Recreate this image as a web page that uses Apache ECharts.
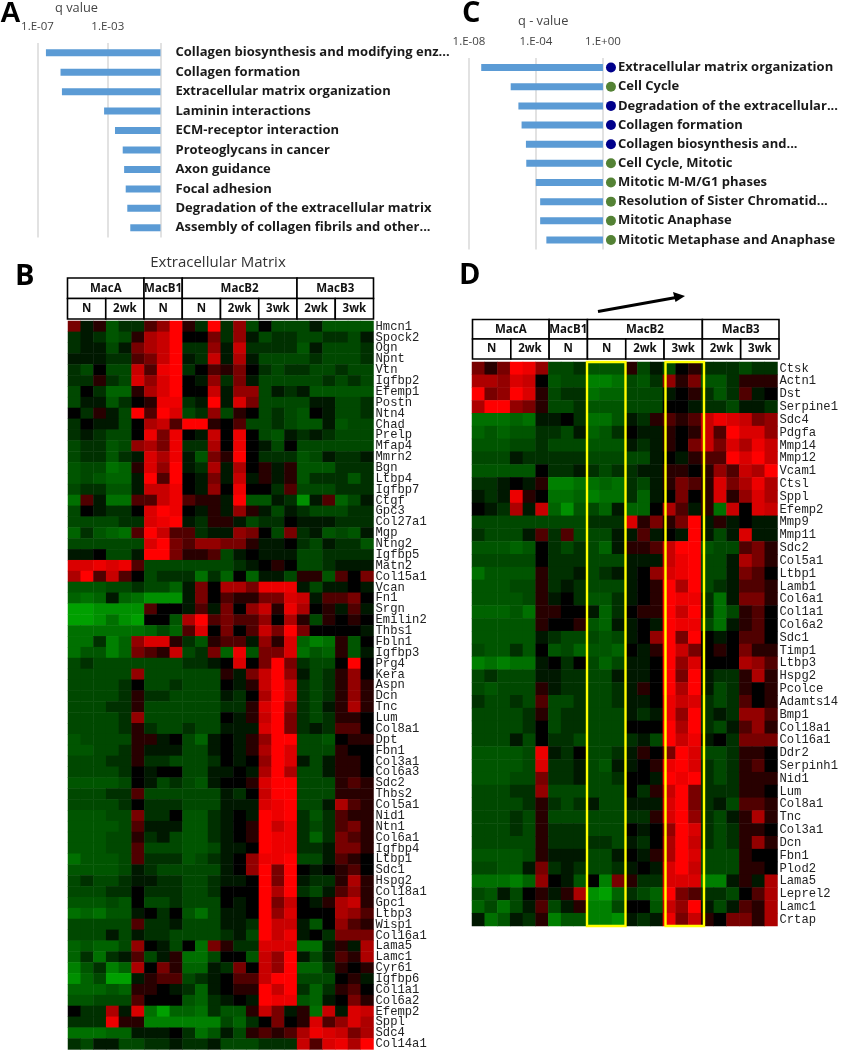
<!DOCTYPE html>
<html><head><meta charset="utf-8">
<style>html,body{margin:0;padding:0;background:#fff}#c{width:841px;height:1050px}</style>
<script src="https://cdn.jsdelivr.net/npm/echarts@6/dist/echarts.min.js"></script>
</head><body><div id="c"></div>
<script>
const pathwaysA = ['Collagen biosynthesis and modifying enz...','Collagen formation','Extracellular matrix organization','Laminin interactions','ECM-receptor interaction','Proteoglycans in cancer','Axon guidance','Focal adhesion','Degradation of the extracellular matrix','Assembly of collagen fibrils and other...'];
const log10qA = [-6.52,-5.69,-5.61,-3.21,-2.59,-2.15,-2.07,-1.98,-1.89,-1.72];
const pathwaysC = ['Extracellular matrix organization','Cell Cycle','Degradation of the extracellular...','Collagen formation','Collagen biosynthesis and...','Cell Cycle, Mitotic','Mitotic M-M/G1 phases','Resolution of Sister Chromatid...','Mitotic Anaphase','Mitotic Metaphase and Anaphase'];
const log10qC = [-7.27,-5.51,-5.05,-4.86,-4.60,-4.58,-4.01,-3.75,-3.75,-3.38];
const classC = ['e','c','e','e','e','c','c','c','c','c'];
const groupHeader = [['MacA',6],['MacB1',3],['MacB2',9],['MacB3',6]];
const timeHeader = [['N',3],['2wk',3],['N',3],['N',3],['2wk',3],['3wk',3],['2wk',3],['3wk',3]];
const genesB = ['Hmcn1','Spock2','Ogn','Npnt','Vtn','Igfbp2','Efemp1','Postn','Ntn4','Chad','Prelp','Mfap4','Mmrn2','Bgn','Ltbp4','Igfbp7','Ctgf','Gpc3','Col27a1','Mgp','Ntng2','Igfbp5','Matn2','Col15a1','Vcan','Fn1','Srgn','Emilin2','Thbs1','Fbln1','Igfbp3','Prg4','Kera','Aspn','Dcn','Tnc','Lum','Col8a1','Dpt','Fbn1','Col3a1','Col6a3','Sdc2','Thbs2','Col5a1','Nid1','Ntn1','Col6a1','Igfbp4','Ltbp1','Sdc1','Hspg2','Col18a1','Gpc1','Ltbp3','Wisp1','Col16a1','Lama5','Lamc1','Cyr61','Igfbp6','Col1a1','Col6a2','Efemp2','Sppl','Sdc4','Col14a1'];
const heatB = [
[3,-1,1,-4,-2,-2,2,4,9,1,-2,9,-2,4,-3,0,-3,-3,-3,-1,-4,-4,-4,-4],
[-2,-1,-2,-4,-3,1,5,6,9,0,0,3,-2,4,-1,-3,-2,-2,-3,-3,-2,-2,-3,-1],
[-2,-1,-1,-3,-1,3,5,6,9,-2,-2,4,-1,6,-2,-2,-2,-2,-4,-1,-3,-3,-3,-2],
[-1,-1,-1,-2,-2,2,3,6,9,-1,-2,6,-1,5,-1,-3,-3,-3,-3,-2,-3,-3,-3,-2],
[-2,-3,0,-3,-3,6,2,8,9,-2,0,2,1,3,0,-2,-3,-2,-2,-3,-3,-2,-3,-3],
[-2,-2,1,-2,-3,7,4,7,9,0,-1,4,-2,3,-1,-3,-3,-3,-3,-3,-2,-3,-2,-3],
[-3,0,-2,-5,-5,1,5,7,9,0,0,6,-1,4,4,-3,-1,-2,-1,-4,-4,-4,-4,-4],
[-3,-1,-1,-4,-2,0,1,8,8,-2,-1,9,-1,7,3,-3,-3,-3,-3,-1,-1,-3,-3,-2],
[0,-2,1,-1,-3,9,2,9,7,-3,-2,4,-3,1,0,-3,-2,-3,-4,0,-1,-3,-3,-2],
[-2,0,-1,-1,-3,0,5,6,2,9,9,1,0,2,-3,-3,-2,-3,-4,-4,-1,-4,-3,-3],
[-2,-1,-2,-3,-3,0,8,3,8,0,-1,6,0,8,0,-3,-4,-1,-2,-1,-2,-3,-3,-3],
[-3,-2,-2,-4,-3,4,5,3,8,-2,-2,5,0,8,0,-1,-3,0,-3,-3,-3,-3,-3,-3],
[-3,-2,-2,-4,-2,-1,7,5,8,-1,-4,3,1,9,0,-2,-2,-2,-4,-3,-1,-2,-2,-1],
[-4,-3,-3,-6,-5,1,7,4,9,-1,-2,5,-1,5,0,1,-1,1,-4,-4,-4,-2,-2,-2],
[-4,-3,-4,-5,-5,-1,9,2,9,0,-1,3,-1,6,-1,1,-1,1,-4,-2,-2,-2,-4,-2],
[-3,-2,-2,-4,-4,-1,6,6,8,0,-1,4,0,8,0,0,-2,2,-3,-3,-3,-2,-2,-2],
[-6,2,-1,-6,-6,2,2,6,8,2,1,1,-1,9,-4,-4,-1,-2,-8,-1,2,-5,-3,-1],
[-3,0,-1,-2,-2,0,7,9,8,0,-1,1,-1,4,1,-1,-3,-1,-2,-3,-3,-3,-2,-2],
[-3,-3,-3,-3,-2,-2,7,8,9,-1,-2,1,1,-1,-3,-2,-2,0,-1,-1,-1,-2,-2,-2],
[-5,-2,-4,-5,-6,2,9,6,2,2,-2,-1,-1,4,3,0,-3,3,-2,-1,-4,-3,-4,-1],
[-3,-3,-3,-3,-3,-3,7,9,3,2,4,4,3,3,1,-1,-1,0,-2,-3,-1,-2,-2,-4],
[-1,-1,0,-3,-3,-1,9,9,3,1,1,2,-3,-1,0,-1,-1,-1,-3,-3,-2,-2,-2,-2],
[7,7,8,7,8,2,-3,-3,-3,-3,-3,-3,-3,-2,-1,0,1,0,-3,-3,-2,-1,-1,-1],
[5,9,2,6,2,0,-3,-2,-2,-2,-6,-2,-5,0,-5,-1,-1,-3,1,1,-4,2,0,3],
[-4,-4,-4,-3,-3,-2,-3,-3,-5,-1,3,0,5,5,3,8,8,8,-1,-3,-1,-1,0,-1],
[-5,-6,-5,-1,-5,-6,-8,-8,-8,-1,3,0,2,1,1,3,3,7,6,-1,2,2,3,0],
[-9,-9,-8,-8,-8,-8,2,0,0,-1,2,-1,3,0,4,6,1,8,5,0,1,-1,2,-1],
[-9,-9,-8,-6,-8,-9,0,0,-4,5,9,2,3,2,2,4,0,5,1,-3,1,0,1,0],
[-6,-6,-6,-6,-6,-6,-5,-3,-5,2,7,0,3,0,2,6,3,9,3,0,0,0,0,-1],
[-6,-6,-2,-7,-5,4,7,7,1,-2,-4,1,2,2,-1,4,1,7,-5,-7,-6,1,-4,0],
[-6,-4,-4,-7,-5,3,2,1,6,-3,-2,3,-5,8,-4,3,3,7,-6,-4,-5,1,-4,-1],
[-3,-2,-3,-3,-3,-3,-3,-3,-3,-2,-2,-1,0,7,0,3,9,3,-2,-3,-3,0,9,0],
[-3,-3,-3,-3,-3,4,-3,-3,-3,-3,-3,-3,1,-1,3,6,9,4,-1,-3,-2,1,4,0],
[-3,-3,-3,-3,-2,0,-3,-3,-2,-3,-3,-3,0,-1,1,6,9,6,-2,-3,-2,1,4,1],
[-3,-3,-3,-3,-2,1,-2,-2,-3,-3,-3,-3,-1,-2,0,5,9,6,-2,-3,-2,1,4,1],
[-3,-3,-3,-2,-2,1,-3,-3,-3,-3,-3,-3,-2,-2,1,7,9,4,-2,-3,-1,1,5,1],
[-3,-3,-3,-3,-2,4,-3,-3,-3,-3,-3,-3,0,-1,1,6,9,3,-2,-3,-2,1,1,0],
[-3,-3,-3,-3,-2,1,-2,-3,-3,-2,-3,-3,-1,-1,-1,7,9,3,-2,-1,-2,2,2,0],
[-4,-3,-3,-3,-3,1,1,-1,0,-3,-5,-1,0,-1,1,4,9,9,-3,-3,-4,0,1,1],
[-4,-4,-3,-3,-2,1,-1,-1,-1,-3,-3,-1,0,-1,1,5,9,7,-3,-3,-3,1,0,0],
[-3,-3,-3,-2,-2,1,-2,-2,-3,-3,-3,-2,0,-1,0,4,9,7,-1,-3,-1,1,1,0],
[-3,-3,-3,-3,-2,0,-1,0,0,-3,-3,-1,-1,0,-1,5,9,5,-3,-3,-1,1,1,0],
[-4,-4,-4,-4,-3,0,-1,-3,-2,-3,-4,-1,0,0,1,7,9,9,-3,-3,-3,1,2,1],
[-3,-3,-3,-2,-2,2,-3,-3,-3,-3,-3,-3,-1,-2,0,6,9,9,-3,-3,-3,1,1,1],
[-3,-3,-3,-3,-2,0,-2,-2,-2,-3,-3,-3,-1,-1,-1,7,8,9,-3,-3,-1,5,2,1],
[-4,-4,-4,-3,-3,3,-2,-2,0,-4,-4,-2,-1,0,-1,9,8,9,-2,-4,-2,2,1,1],
[-4,-4,-4,-4,-3,2,-1,-1,-1,-4,-4,-2,-1,0,1,9,6,8,-2,-3,-2,2,3,1],
[-4,-4,-4,-3,-3,1,-2,-1,-3,-4,-4,-2,-1,0,1,9,8,8,-2,-5,-2,3,2,1],
[-4,-4,-4,-3,-3,2,-3,-3,-3,-4,-4,-3,-1,-1,0,9,8,8,-2,-2,-1,3,3,1],
[-6,-4,-4,-4,-3,2,-2,-2,-2,-4,-3,-2,-1,0,4,8,8,9,-3,-3,-1,2,1,0],
[-4,-4,-4,-4,-3,-1,-2,-3,-3,-3,-3,-3,-1,0,4,9,3,9,0,-1,0,1,2,0],
[-3,-2,-3,-3,-2,-1,-1,-2,-2,-3,-3,-2,-1,-1,0,9,3,9,-1,-2,-2,1,5,1],
[-3,-3,-3,-2,-2,0,-2,-2,-2,-3,-3,-2,0,0,0,9,5,9,-2,-3,-1,2,4,1],
[-4,-4,-4,-3,-4,0,-3,-3,-2,-3,-3,-3,0,-1,0,9,3,6,0,-1,1,5,6,1],
[-6,-5,-6,-4,-4,-1,0,-2,0,-4,-6,-3,-1,-1,0,9,4,7,0,0,0,5,4,2],
[-3,-3,-3,-3,-3,2,-2,-2,-1,-3,-3,-3,-1,-1,-2,9,6,6,-1,-4,0,4,2,1],
[-3,-3,-3,-1,-3,-1,-2,-2,-3,-3,-3,-3,-2,-1,-3,9,6,8,-1,0,-2,3,3,3],
[-5,-4,-5,-5,-3,4,0,-1,-3,0,-6,3,1,-2,-2,7,7,7,-6,-6,-1,1,-1,5],
[-5,-2,-6,-2,-1,2,-3,-1,1,-6,-6,-3,0,0,-4,6,4,9,-1,-3,-1,2,1,5],
[-7,-4,-2,-7,-5,5,0,3,1,-5,-5,-1,-2,3,0,6,4,9,-5,-5,-2,1,0,1],
[-8,-5,-3,-9,-9,-1,1,2,2,-3,-2,-1,0,2,2,6,9,9,-3,-3,-3,0,1,-1],
[-5,-5,-5,-4,-5,1,1,0,-1,-2,-5,-1,0,1,1,9,6,9,-2,-5,-2,1,2,0],
[-4,-4,-3,-3,-3,2,0,0,0,-4,-5,-2,-1,0,-1,9,8,8,-4,-5,-1,0,3,1],
[0,-2,-2,5,-1,7,-6,-9,-5,-5,-6,-2,-4,-4,1,6,3,-1,1,-6,6,-1,7,6],
[-2,-2,-2,8,1,1,-7,-7,-7,-7,-7,-7,-3,-5,-2,0,3,0,1,7,2,4,7,5],
[-6,-6,-6,-5,-5,-1,-1,-1,0,-2,-6,-4,-1,-3,1,2,1,2,5,8,7,6,3,5],
[-2,-3,-1,-1,-3,-3,-2,-2,-1,-2,-2,-1,-3,-3,-3,-2,-2,-2,6,2,7,8,5,9]
];
const genesD = ['Ctsk','Actn1','Dst','Serpine1','Sdc4','Pdgfa','Mmp14','Mmp12','Vcam1','Ctsl','Sppl','Efemp2','Mmp9','Mmp11','Sdc2','Col5a1','Ltbp1','Lamb1','Col6a1','Col1a1','Col6a2','Sdc1','Timp1','Ltbp3','Hspg2','Pcolce','Adamts14','Bmp1','Col18a1','Col16a1','Ddr2','Serpinh1','Nid1','Lum','Col8a1','Tnc','Col3a1','Dcn','Fbn1','Plod2','Lama5','Leprel2','Lamc1','Crtap'];
const heatD = [
[3,1,3,9,8,4,-3,-3,-2,-4,-4,-4,1,-3,-1,-3,0,1,-2,-2,-2,-3,-2,-2],
[5,5,4,7,6,0,-4,-3,-3,-7,-7,-6,-3,-4,-2,4,1,3,-4,-4,-2,1,1,1],
[9,3,4,9,7,1,-3,-2,-2,-6,-5,-5,-3,-3,-3,-1,0,1,-2,-4,-2,2,-1,0],
[5,9,9,4,3,1,-3,-3,-2,-4,-4,-4,-3,-3,-3,0,0,-1,-2,-2,-3,-1,-1,-2],
[-6,-6,-6,-5,-6,-1,-1,0,-2,-6,-6,-4,-1,-2,1,2,1,2,6,8,7,6,3,4],
[-5,-4,-5,-4,-4,-2,-2,-3,-1,-5,-4,-2,0,-1,-1,1,0,1,6,2,9,7,7,4],
[-4,-4,-4,-3,-3,-2,-3,-3,-3,-4,-4,-4,-1,-2,-1,1,0,3,6,3,7,5,8,6],
[-3,-3,-3,-1,-2,-2,-2,-2,-2,-3,-3,-3,-3,-3,-1,0,-1,1,2,2,9,7,9,6],
[-4,-4,-4,-4,-4,0,-2,-2,-1,-2,-3,-2,-2,-1,-1,1,1,0,1,4,2,6,5,9],
[-2,-2,-1,0,-1,1,-7,-7,-6,-6,-5,-6,-2,-3,-1,1,3,2,1,7,3,5,8,5],
[-1,-2,-1,8,1,0,-6,-6,-5,-7,-6,-6,-2,-5,-1,0,3,0,1,7,1,4,7,5],
[0,-1,-2,5,-1,6,-5,-8,-4,-3,-5,-1,-5,-5,0,5,2,-1,1,-6,6,0,7,6],
[-3,-3,-3,-3,-3,-3,-3,-3,-3,-2,-2,-2,7,1,3,1,3,9,-1,1,-1,0,-1,-1],
[-2,-3,-3,-3,-1,2,-2,2,-3,-3,-3,-1,-1,2,-1,0,-1,9,-1,-3,-1,7,-1,-1],
[-4,-4,-4,-5,-4,0,-2,-3,-2,-3,-5,-1,1,1,2,6,9,9,-4,-3,-3,2,3,1],
[-3,-3,-3,-3,-3,0,-2,-2,-2,-3,-3,-3,-1,-1,-1,6,8,9,-3,-3,-1,5,3,1],
[-6,-4,-4,-4,-4,1,-2,-2,-1,-3,-2,-1,-1,0,4,7,8,9,-3,-3,-1,3,2,0],
[-4,-4,-4,-3,-3,1,-2,-1,-2,-3,-3,-3,-1,0,1,9,5,9,-3,-2,-1,2,2,1],
[-4,-4,-4,-4,-3,1,-1,0,-2,-4,-4,-2,-1,0,1,9,8,8,-2,-6,-1,3,3,1],
[-5,-5,-5,-4,-6,1,1,0,0,-1,-5,-2,0,1,1,9,6,9,-2,-6,-3,1,2,0],
[-4,-4,-4,-4,-4,1,0,0,1,-4,-5,-1,-1,0,-1,9,8,8,-3,-6,-1,1,2,0],
[-4,-4,-4,-4,-4,-1,-2,-3,-3,-3,-4,-3,-1,0,4,9,3,9,0,-1,0,2,2,0],
[-3,-4,-4,-2,-4,0,-4,-3,-5,-4,-4,-5,0,-1,1,9,6,3,0,1,0,3,1,1],
[-7,-6,-7,-6,-6,-1,0,-2,0,-3,-5,-3,-1,-1,0,9,4,7,0,0,0,5,4,2],
[-3,-2,-3,-3,-3,-1,-1,-2,-2,-3,-3,-1,-1,-1,0,9,3,9,-1,-2,-2,1,5,1],
[-3,-4,-3,-3,-3,1,-1,-2,-2,-3,-3,-2,-1,1,0,9,5,9,-1,-3,-2,1,0,1],
[-2,-3,-3,-2,-3,2,-3,-3,-2,-3,-3,-2,-1,-1,0,8,6,7,-2,-3,-2,2,0,1],
[-3,-3,-3,-3,-2,1,-3,-2,-2,-3,-3,-3,-1,-2,-1,8,4,9,-2,-1,-2,4,4,2],
[-3,-3,-3,-3,-2,0,-3,-2,-2,-3,-3,-3,0,0,0,9,5,9,-2,-3,-1,2,4,1],
[-3,-3,-3,-1,-3,0,-2,-2,-3,-3,-3,-3,-2,-1,-3,9,6,8,-1,0,-2,3,3,3],
[-4,-4,-4,-4,-3,8,-1,-2,0,-3,-3,-2,-1,1,0,3,9,7,-3,-3,-2,1,1,0],
[-4,-4,-4,-4,-3,7,-2,-2,-1,-3,-4,-1,-1,0,1,8,9,7,-2,-3,-2,1,2,0],
[-4,-4,-4,-3,-3,3,-2,-2,-1,-3,-3,-2,0,0,-1,9,8,9,-2,-3,-2,1,1,1],
[-3,-3,-3,-2,-2,4,-3,-3,-3,-3,-3,-3,0,-2,1,6,9,3,-2,-2,-2,1,1,0],
[-3,-3,-3,-3,-2,1,-2,-3,-2,-1,-3,-3,-1,-1,-1,7,9,3,-2,-1,-3,2,2,1],
[-3,-3,-3,-2,-3,1,-3,-3,-3,-3,-3,-3,-2,-2,1,7,9,4,-2,-3,-1,1,5,1],
[-3,-3,-3,-2,-3,1,-2,-2,-2,-3,-3,-3,0,-1,0,4,9,7,-2,-3,-2,1,1,0],
[-3,-3,-3,-3,-3,1,-2,-2,-2,-2,-2,-3,-1,-2,0,5,9,6,-2,-3,-2,1,4,1],
[-4,-4,-4,-4,-3,1,-1,-1,-1,-3,-3,-1,0,-1,1,5,9,7,-3,-3,-3,1,0,0],
[-3,-3,-4,-4,-1,3,-2,-1,-2,-3,-3,-2,-1,0,-1,7,9,6,-3,-3,-3,1,1,0],
[-6,-6,-6,-7,-5,4,0,-1,-4,0,-7,3,1,-2,-2,7,7,7,-7,-7,-1,1,-1,5],
[-3,-4,-1,-3,0,1,-1,1,5,-8,-9,-5,-2,-3,-5,9,3,2,-2,-2,-3,0,2,5],
[-5,-3,-6,-3,-1,2,-3,-1,1,-7,-7,-3,0,0,-4,6,4,9,-1,-3,-1,2,1,5],
[-1,-6,-4,-1,-2,1,-7,-4,-4,-7,-7,-8,-1,-2,-1,8,3,6,1,0,3,3,1,5]
];
const columns = Array.from({length:24},(_,i)=>String(i));
const barBlue='#5b9bd5', gridGrey='#d9d9d9', dotColors={e:'#00008b',c:'#548235'};
const heatColors=['#00a000','#007000','#004800','#000000','#780000','#c80000','#ff0000'];
const uiFont='"Open Sans"', monoFont='"Liberation Mono"';

function cells(rows){const o=[];rows.forEach((r,y)=>r.forEach((v,x)=>o.push([x,y,v])));return o;}
function headerTable(x0,x1,y0,y1,y2){
  const w=(x1-x0)/24, g=[];
  const cell=(xa,xb,ya,yb,t)=>{
    g.push({type:'rect',shape:{x:xa,y:ya,width:xb-xa,height:yb-ya},style:{fill:'#fff',stroke:'#000',lineWidth:1.6},z:10});
    g.push({type:'text',style:{x:(xa+xb)/2,y:(ya+yb)/2,text:t,align:'center',verticalAlign:'middle',font:'bold 11.5px '+uiFont,fill:'#111'},z:11});
  };
  let c=0; groupHeader.forEach(([t,n])=>{cell(x0+c*w,x0+(c+n)*w,y0,y1,t);c+=n;});
  c=0; timeHeader.forEach(([t,n])=>{cell(x0+c*w,x0+(c+n)*w,y1,y2,t);c+=n;});
  return g;
}
function label(x,y,t,font,fill,align){return {type:'text',z:12,style:{x,y,text:t,font,fill:fill||'#111',align:align||'left',verticalAlign:'middle'}};}
const yellowBox=(x,y,w,h)=>({type:'rect',z:12,shape:{x,y,width:w,height:h},style:{fill:'none',stroke:'#ffff00',lineWidth:2.4}});
const graphics=[
  label(0,14,'A','bold 29px "Liberation Sans"','#000'),
  label(15,277,'B','bold 29px "Open Sans"','#000'),
  label(462,14,'C','bold 29px "Open Sans"','#000'),
  label(459,276,'D','bold 29px "Open Sans"','#000'),
  label(55,8,'q value','12.8px '+uiFont,'#444'),
  label(518,21,'q - value','12.8px '+uiFont,'#444'),
  label(218,263,'Extracellular Matrix','15px '+uiFont,'#333','center'),
  ...headerTable(67.5,373.5,278,298.5,319),
  ...headerTable(472.5,779,319.5,339,359),
  yellowBox(587,362,38.5,564),
  yellowBox(665.5,362,38.5,564),
  {type:'polyline',z:12,shape:{points:[[598,311.5],[676,297.5]]},style:{stroke:'#000',lineWidth:3,fill:'none'}},
  {type:'polygon',z:12,shape:{points:[[685,296],[673,292],[675.5,302]]},style:{fill:'#000'}}
];
const hiddenX=(g)=>({type:'category',gridIndex:g,data:columns,axisLine:{show:false},axisTick:{show:false},axisLabel:{show:false},splitLine:{show:false}});
const geneY=(g,d,pad)=>({type:'category',gridIndex:g,data:d,inverse:true,position:'right',axisLine:{show:false},axisTick:{show:false},splitLine:{show:false},
  axisLabel:{interval:0,margin:2,padding:[pad,0,0,0],fontFamily:monoFont,fontSize:12.2,color:'#222'}});
const expLabel=v=>{ if(v===0) return ''; return '1.E-0'+Math.abs(v); };
const option={
  animation:false,
  backgroundColor:'#fff',
  graphic:graphics,
  grid:[
    {left:37.5,top:43,width:123,height:194.5},
    {left:469,top:58,width:135,height:191.5},
    {left:68,top:321,width:305.5,height:729},
    {left:472,top:362,width:307,height:564}
  ],
  xAxis:[
    {type:'value',gridIndex:0,position:'top',min:-7,max:0,interval:4,axisLine:{show:false},axisTick:{show:false},
      axisLabel:{margin:10,fontFamily:uiFont,fontSize:11.5,color:'#444',formatter:expLabel,showMaxLabel:true},
      splitLine:{show:true,lineStyle:{color:gridGrey,width:1.5}}},
    {type:'value',gridIndex:1,position:'top',min:-8,max:0,interval:4,axisLine:{show:false},axisTick:{show:false},
      axisLabel:{margin:10,fontFamily:uiFont,fontSize:11.5,color:'#444',formatter:v=>v===0?'1.E+00':expLabel(v)},
      splitLine:{show:true,lineStyle:{color:gridGrey,width:1.5}}},
    hiddenX(2),hiddenX(3)
  ],
  yAxis:[
    {type:'category',gridIndex:0,data:pathwaysA,inverse:true,position:'right',axisLine:{show:false},axisTick:{show:false},
      axisLabel:{interval:0,margin:15,padding:[2,0,0,0],fontFamily:uiFont,fontWeight:'bold',fontSize:13,color:'#1a1a1a'}},
    {type:'category',gridIndex:1,data:pathwaysC,inverse:true,position:'right',axisLine:{show:false},axisTick:{show:false},
      axisLabel:{interval:0,margin:3,formatter:(v,i)=>'{'+classC[i]+'| }{t|'+v+'}',
        rich:{
          e:{width:10,height:10,borderRadius:5,backgroundColor:dotColors.e},
          c:{width:10,height:10,borderRadius:5,backgroundColor:dotColors.c},
          t:{fontFamily:uiFont,fontWeight:'bold',fontSize:13,color:'#1a1a1a',padding:[0,0,0,2]}
        }}},
    geneY(2,genesB,4),geneY(3,genesD,5)
  ],
  visualMap:[
    {show:false,seriesIndex:2,min:-9,max:9,inRange:{color:heatColors}},
    {show:false,seriesIndex:3,min:-9,max:9,inRange:{color:heatColors}}
  ],
  series:[
    {type:'bar',xAxisIndex:0,yAxisIndex:0,data:log10qA,barWidth:7,itemStyle:{color:barBlue}},
    {type:'bar',xAxisIndex:1,yAxisIndex:1,data:log10qC,barWidth:7,itemStyle:{color:barBlue}},
    {type:'heatmap',xAxisIndex:2,yAxisIndex:2,data:cells(heatB),progressive:0,itemStyle:{borderWidth:0}},
    {type:'heatmap',xAxisIndex:3,yAxisIndex:3,data:cells(heatD),progressive:0,itemStyle:{borderWidth:0}}
  ]
};
const chart=echarts.init(document.getElementById('c'),null,{renderer:'canvas'});
chart.setOption(option);
</script></body></html>
